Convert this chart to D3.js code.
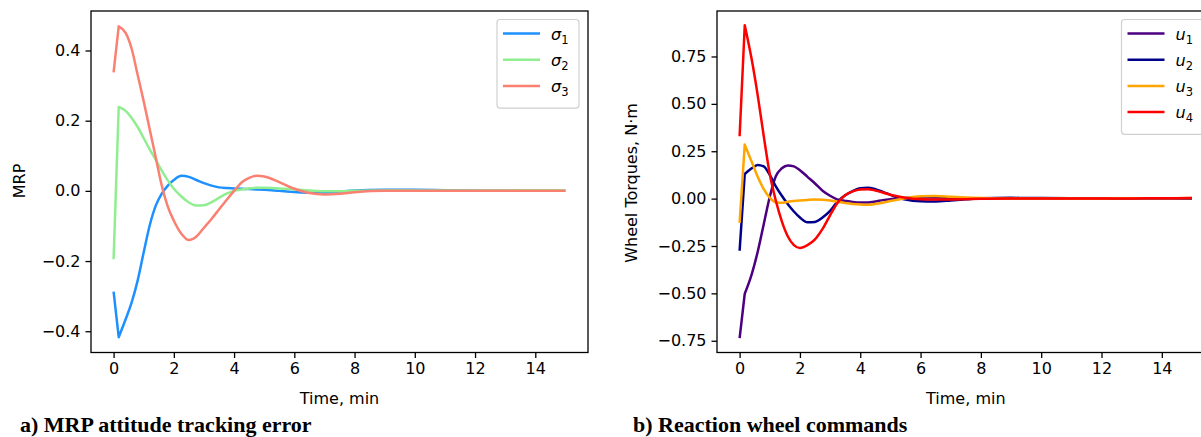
<!DOCTYPE html>
<html>
<head>
<meta charset="utf-8">
<script src="https://cdn.jsdelivr.net/npm/d3@7"></script>
<style>
  html, body { margin: 0; padding: 0; background: #fff; }
  svg { display: block; }
  .tick text { font-family: "DejaVu Sans", sans-serif; font-size: 16px; fill: #000; }
  .tick line { stroke: #000; stroke-width: 1.3; }
  .domain { display: none; }
</style>
</head>
<body>
<svg id="chart" width="1201" height="437"></svg>
<script>
// ---------------- data ----------------
const time = [0, 0.17, 0.4, 0.6, 0.8, 1.0, 1.2, 1.4, 1.6, 1.8, 2.0, 2.25, 2.5, 2.75, 3.0, 3.25, 3.5, 3.75, 4.0, 4.25, 4.5, 4.75, 5.0, 5.5, 6.0, 6.5, 7.0, 7.5, 8.0, 9.0, 10, 11, 12, 13, 14, 15];

const sigma1 = [-0.287, -0.417, -0.366, -0.318, -0.255, -0.175, -0.098, -0.042, -0.008, 0.015, 0.031, 0.043, 0.040, 0.031, 0.022, 0.015, 0.010, 0.008, 0.007, 0.006, 0.005, 0.004, 0.003, 0.000, -0.003, -0.005, -0.005, -0.002, 0.001, 0.003, 0.003, 0.002, 0.001, 0.000, 0.000, 0.000];
const sigma2 = [-0.195, 0.239, 0.228, 0.208, 0.182, 0.150, 0.118, 0.088, 0.058, 0.030, 0.006, -0.016, -0.033, -0.042, -0.041, -0.032, -0.020, -0.008, 0.000, 0.004, 0.007, 0.009, 0.009, 0.007, 0.004, 0.001, -0.001, -0.001, 0.000, 0.001, 0.001, 0.001, 0.001, 0.001, 0.002, 0.002];
const sigma3 = [0.338, 0.469, 0.450, 0.405, 0.330, 0.255, 0.175, 0.095, 0.015, -0.045, -0.085, -0.122, -0.140, -0.130, -0.105, -0.080, -0.053, -0.026, 0.000, 0.024, 0.037, 0.043, 0.041, 0.025, 0.006, -0.006, -0.010, -0.008, -0.004, 0.000, 0.000, 0.000, 0.000, 0.000, 0.000, 0.000];

const u1 = [-0.736, -0.502, -0.400, -0.280, -0.135, 0.010, 0.118, 0.160, 0.175, 0.170, 0.150, 0.115, 0.080, 0.042, 0.015, -0.005, -0.012, -0.018, -0.021, -0.020, -0.015, -0.008, -0.003, 0.003, 0.006, 0.006, 0.004, 0.002, 0.001, 0.000, 0.000, 0.000, 0.000, 0.001, 0.001, 0.002];
const u2 = [-0.275, 0.130, 0.160, 0.178, 0.170, 0.125, 0.065, 0.015, -0.030, -0.068, -0.100, -0.125, -0.123, -0.100, -0.065, -0.015, 0.018, 0.040, 0.055, 0.058, 0.050, 0.035, 0.020, -0.005, -0.014, -0.015, -0.010, -0.004, 0.002, 0.004, 0.003, 0.002, 0.001, 0.001, 0.001, 0.001];
const u3 = [-0.128, 0.285, 0.195, 0.115, 0.050, 0.005, -0.020, -0.022, -0.017, -0.013, -0.010, -0.007, -0.005, -0.006, -0.010, -0.016, -0.023, -0.028, -0.031, -0.032, -0.028, -0.022, -0.013, 0.002, 0.012, 0.014, 0.010, 0.006, 0.003, 0.000, 0.001, 0.001, 0.001, 0.002, 0.002, 0.003];
const u4 = [0.329, 0.915, 0.735, 0.545, 0.330, 0.130, -0.010, -0.120, -0.200, -0.245, -0.260, -0.245, -0.215, -0.160, -0.088, -0.022, 0.018, 0.038, 0.048, 0.050, 0.043, 0.032, 0.020, 0.005, -0.003, -0.005, -0.005, -0.003, -0.001, 0.000, 0.000, 0.000, 0.000, 0.001, 0.002, 0.003];

const xTicks = [0, 2, 4, 6, 8, 10, 12, 14];
const yTicksA = [-0.4, -0.2, 0.0, 0.2, 0.4];
const yTicksB = [-0.75, -0.50, -0.25, 0.00, 0.25, 0.50, 0.75];

const seriesA = [
  { name: "1", values: sigma1, color: "#1E90FF" },
  { name: "2", values: sigma2, color: "#90EE90" },
  { name: "3", values: sigma3, color: "#FA8072" }
];
const seriesB = [
  { name: "1", values: u1, color: "#4B0082" },
  { name: "2", values: u2, color: "#00008B" },
  { name: "3", values: u3, color: "#FFA500" },
  { name: "4", values: u4, color: "#FF0000" }
];

// ---------------- drawing ----------------
const svg = d3.select("#chart");
const TOP = 11, BOTTOM = 352.5;

function panel(opts) {
  const g = svg.append("g");
  const x = d3.scaleLinear().domain([-0.75, 15.75]).range([opts.left, opts.right]);
  const y = d3.scaleLinear().domain(opts.yDomain).range([BOTTOM, TOP]);

  const clipId = "clip" + opts.id;
  svg.append("clipPath").attr("id", clipId)
    .append("rect").attr("x", opts.left).attr("y", TOP)
    .attr("width", opts.right - opts.left).attr("height", BOTTOM - TOP);

  // axes
  g.append("g").attr("transform", `translate(0,${BOTTOM})`)
    .call(d3.axisBottom(x).tickValues(xTicks).tickFormat(d3.format("d")).tickSize(5.5).tickPadding(5));
  g.append("g").attr("transform", `translate(${opts.left},0)`)
    .call(d3.axisLeft(y).tickValues(opts.yTicks).tickFormat(d3.format(opts.fmt)).tickSize(5.5).tickPadding(5));
  g.selectAll(".tick text").attr("font-family", "DejaVu Sans").attr("font-size", 16);

  // lines: first sample step is a straight segment, the rest a smooth curve
  const pts = s => s.values.map((v, i) => [time[i], v]);
  const lineLin = d3.line().x(d => x(d[0])).y(d => y(d[1]));
  const lineSmooth = d3.line().x(d => x(d[0])).y(d => y(d[1])).curve(d3.curveMonotoneX);
  const lg = g.append("g").attr("clip-path", `url(#${clipId})`);
  opts.series.forEach(s => {
    const p = pts(s);
    const d = lineLin(p.slice(0, 2)) + lineSmooth(p.slice(1)).replace(/^M/, "L");
    lg.append("path").attr("d", d)
      .attr("fill", "none").attr("stroke", s.color).attr("stroke-width", 2.5)
      .attr("stroke-linejoin", "round").attr("stroke-linecap", "butt");
  });

  // frame
  g.append("rect").attr("x", opts.left).attr("y", TOP)
    .attr("width", opts.right - opts.left).attr("height", BOTTOM - TOP)
    .attr("fill", "none").attr("stroke", "#000").attr("stroke-width", 1.3);

  // x label
  g.append("text").attr("x", x(7.5)).attr("y", 404).attr("text-anchor", "middle")
    .attr("font-family", "DejaVu Sans").attr("font-size", 16).text("Time, min");
  // y label
  g.append("text").attr("transform", `translate(${opts.ylabX},${opts.ylabY}) rotate(-90)`)
    .attr("text-anchor", "middle").attr("font-family", "DejaVu Sans").attr("font-size", 16)
    .text(opts.ylabel);

  // legend
  const L = opts.legend;
  const n = opts.series.length;
  const lgd = g.append("g");
  lgd.append("rect").attr("x", L.x).attr("y", L.y).attr("width", L.w).attr("height", 10 + n * 26.2)
    .attr("rx", 3).attr("fill", "#fff").attr("fill-opacity", 0.8)
    .attr("stroke", "#d0d0d0").attr("stroke-width", 1.2);
  opts.series.forEach((s, i) => {
    const yy = L.y + 14 + i * 26.2;
    lgd.append("line").attr("x1", L.x + 6).attr("x2", L.x + 43).attr("y1", yy).attr("y2", yy)
      .attr("stroke", s.color).attr("stroke-width", 2.5);
    const t = lgd.append("text").attr("x", L.x + 54).attr("y", yy + 6)
      .attr("font-family", "DejaVu Sans").attr("font-size", 16);
    t.append("tspan").attr("font-style", "italic").text(opts.sym);
    t.append("tspan").attr("dy", 4).attr("font-size", 11.5).text(s.name);
  });

  // caption
  svg.append("text").attr("x", opts.capX).attr("y", 432)
    .attr("font-family", "Liberation Serif, Times New Roman, serif").attr("font-weight", "bold")
    .attr("font-size", 22).text(opts.caption);
}

panel({
  id: "A", left: 91, right: 588, yDomain: [-0.4606, 0.5126], yTicks: yTicksA, fmt: ".1f",
  series: seriesA, sym: "σ", ylabel: "MRP", ylabX: 25, ylabY: 181,
  legend: { x: 497, y: 19.5, w: 82 }, caption: "a) MRP attitude tracking error", capX: 20
});
panel({
  id: "B", left: 717, right: 1214.6, yDomain: [-0.812, 0.99], yTicks: yTicksB, fmt: ".2f",
  series: seriesB, sym: "u", ylabel: "Wheel Torques, N·m", ylabX: 637, ylabY: 183,
  legend: { x: 1121.5, y: 19.5, w: 84 }, caption: "b) Reaction wheel commands", capX: 633
});
</script>
</body>
</html>
